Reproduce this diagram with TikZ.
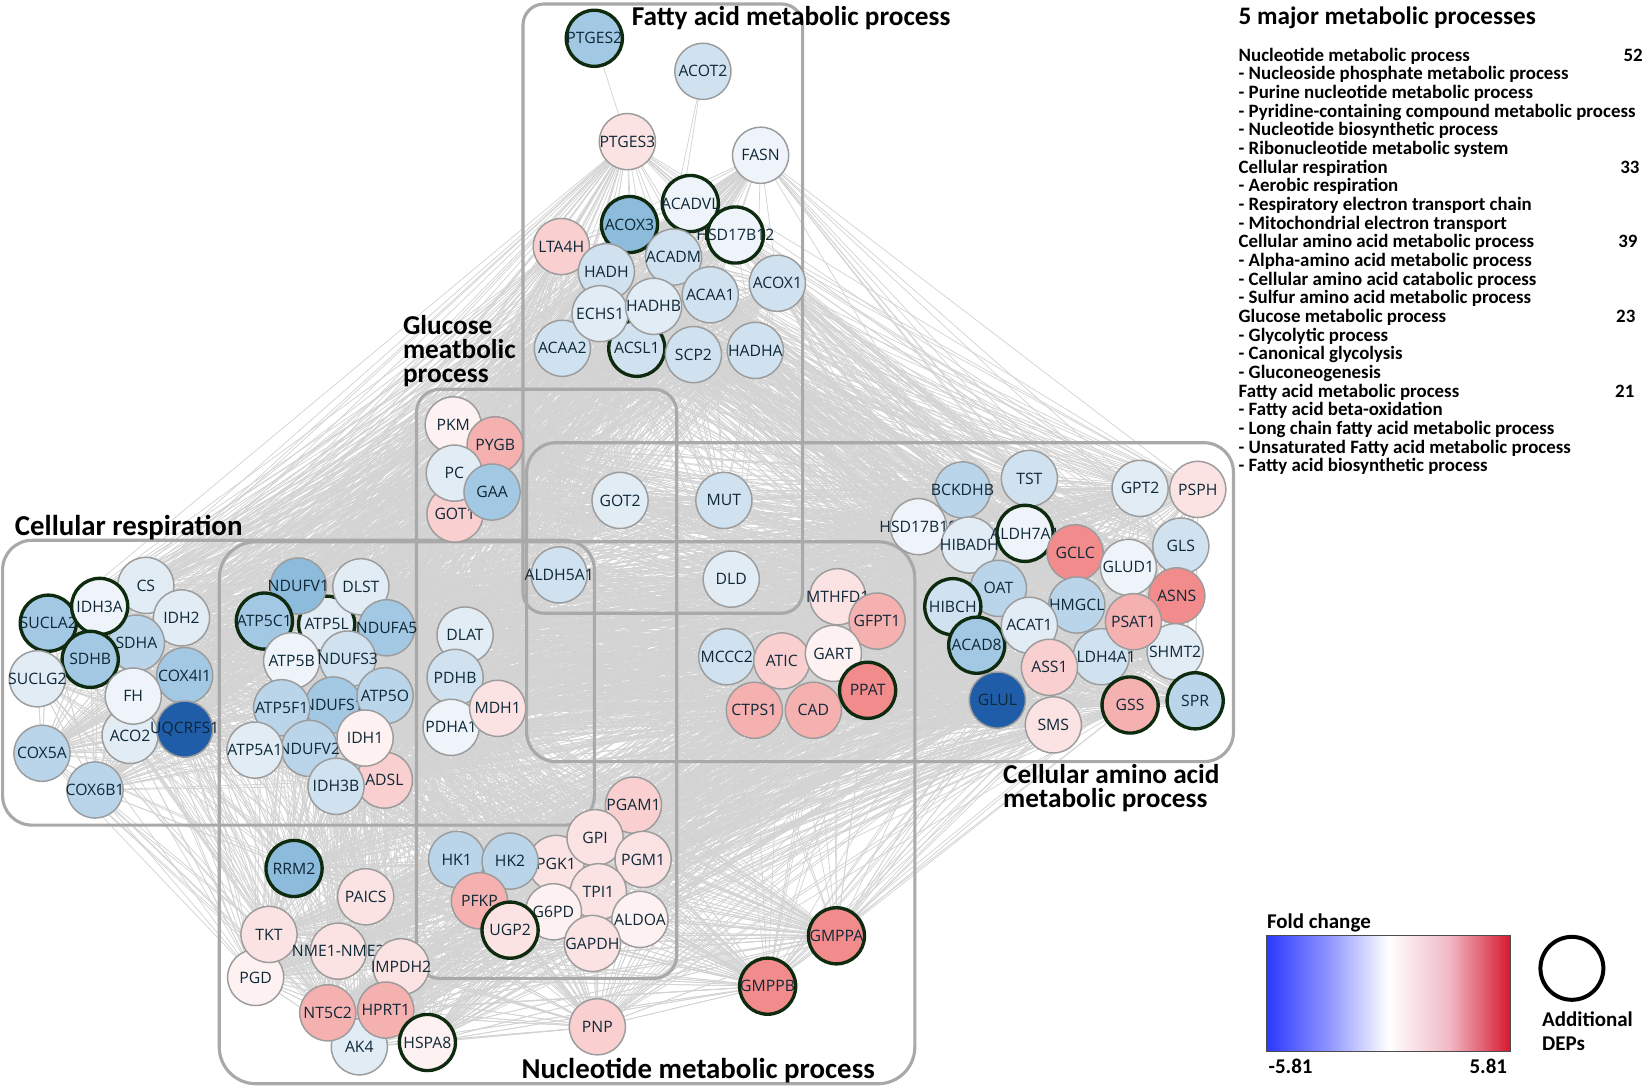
\documentclass[tikz,border=0pt]{standalone}
\usepackage{fontspec}
\setmainfont{Carlito}
\newfontfamily\lbl{Open Sans}
\pgfdeclarelayer{edgelayer}
\pgfsetlayers{edgelayer,main}
\definecolor{b0}{HTML}{EEF4F9}
\definecolor{b1}{HTML}{E1ECF5}
\definecolor{b2}{HTML}{D0E2EF}
\definecolor{b3}{HTML}{BAD5EA}
\definecolor{b4}{HTML}{A3C8E3}
\definecolor{b5}{HTML}{8DBBDB}
\definecolor{b6}{HTML}{1F5DA8}
\definecolor{r0}{HTML}{FDF1F1}
\definecolor{r1}{HTML}{FBE3E3}
\definecolor{r2}{HTML}{F9CFCF}
\definecolor{r3}{HTML}{F5B0B0}
\definecolor{r4}{HTML}{F28B8B}
\definecolor{nbc}{HTML}{9C9C9C}
\definecolor{depc}{HTML}{0E2B10}
\definecolor{ltc}{HTML}{0F2838}
\definecolor{boxc}{HTML}{A9A9A9}
\definecolor{edgec}{HTML}{D3D3D3}
\pgfdeclarehorizontalshading{foldch}{100bp}{rgb(0bp)=(0.17,0.22,1); rgb(25bp)=(0.17,0.22,1); rgb(37.5bp)=(0.55,0.58,1); rgb(50bp)=(1,1,1); rgb(62.5bp)=(0.94,0.72,0.77); rgb(75bp)=(0.84,0.09,0.18); rgb(100bp)=(0.84,0.09,0.18)}
\tikzset{
  gn/.style={circle,minimum size=53.5pt,inner sep=0pt,draw=nbc,line width=1.4pt},
  deps/.style={draw=depc,line width=3.2pt},
  gl/.style={inner sep=0pt,text=ltc,font=\lbl\fontsize{15}{15}\selectfont},
  procbox/.style={draw=boxc,line width=3pt,rounded corners=22pt},
  ttl/.style={font=\bfseries\fontsize{26}{28}\selectfont,inner sep=0pt,anchor=base west},
  bigttl/.style={ttl,font=\bfseries\fontsize{27.5}{29}\selectfont},
  leg/.style={font=\bfseries\fontsize{18}{18}\selectfont,inner sep=0pt,anchor=base west},
  keyt/.style={leg,font=\bfseries\fontsize{20}{22}\selectfont},
  lnk/.style={draw=edgec,line width=0.7pt},
}
\newcommand\gn[5][]{\node[gn,fill=#4,#1] (#2) at (#3) {}; \node[gl] at (#2) {#5};}
\newcommand\linkall[2]{\foreach \a in #1 {\foreach \b in #2 {\draw[lnk] (\a.center) -- (\b.center);}}}
\def\Rl{CS,IDH3A,IDH2,SUCLA2,SDHA,SDHB,SUCLG2,COX4I1,FH,UQCRFS1,ACO2,COX5A,COX6B1}
\def\Md{NDUFV1,DLST,ATP5C1,ATP5L,NDUFA5,ATP5B,NDUFS3,DLAT,PDHB,ATP5F1,NDUFS1,ATP5O,MDH1,IDH1,PDHA1,ATP5A1,NDUFV2,IDH3B,ADSL}
\def\Fc{LTA4H,ACADM,HADH,ACAA1,ECHS1,HADHB,ACAA2,ACSL1,SCP2,HADHA,ACOX1,ACOX3}
\def\Fo{PTGES3,FASN,ACADVL,HSD17B12}
\def\Gl{PKM,PYGB,PC,GAA,GOT1,GOT2,MUT,ALDH5A1,DLD}
\def\Am{BCKDHB,TST,GPT2,PSPH,HSD17B10,HIBADH,ALDH7A1,GCLC,GLS,GLUD1,OAT,ASNS,HIBCH,HMGCL,ACAT1,PSAT1,ACAD8,ALDH4A1,SHMT2,ASS1,GSS,SPR,SMS,GLUL}
\def\Ams{OAT,ACAT1,GLUL,ASS1,SMS,GSS,PSAT1,SHMT2,GCLC,ASNS,GLUD1,HMGCL}
\def\Amr{GPT2,PSPH,GLS,GLUD1,ASNS,SHMT2,PSAT1,TST,BCKDHB,GCLC}
\def\Nm{MTHFD1,GFPT1,MCCC2,ATIC,GART,PPAT,CTPS1,CAD}
\def\Bt{RRM2,PAICS,TKT,PGD,NME,IMPDH2,NT5C2,HPRT1,AK4,HSPA8,HK1,HK2,PFKP,UGP2,PGK1,GPI,PGAM1,PGM1,TPI1,G6PD,ALDOA,GAPDH,PNP,GMPPA,GMPPB}
\def\Bl{TKT,PGD,RRM2,NT5C2,AK4,PAICS}
\begin{document}
\begin{tikzpicture}[x=1pt,y=-1pt]
\useasboundingbox (0,0) rectangle (1568,1036);
% process boxes
\draw[procbox,rounded corners=20pt] (498.5,3.8) rectangle (765,584.5);
\draw[procbox] (397,371) rectangle (645,932.6);
\draw[procbox,rounded corners=28pt] (502,422) rectangle (1175.7,726);
\draw[procbox,rounded corners=28pt] (2.5,515) rectangle (566.5,786.5);
\draw[procbox,rounded corners=35pt] (209,516.4) rectangle (872,1033);
% fatty acid
\gn[deps]{PTGES2}{566.5,36.5}{b4}{PTGES2}
\gn{ACOT2}{670,68}{b2}{ACOT2}
\gn{PTGES3}{598,135}{r1}{PTGES3}
\gn{FASN}{725,148}{b0}{FASN}
\gn{LTA4H}{535,235}{r2}{LTA4H}
\gn[deps]{ACOX3}{600,214}{b5}{ACOX3}
\gn[deps]{ACADVL}{658,194}{b0}{ACADVL}
\gn[deps]{HSD17B12}{701,224}{b0}{HSD17B12}
\gn{ACADM}{642,245}{b2}{ACADM}
\gn{HADH}{578,259}{b2}{HADH}
\gn{ACOX1}{741,270}{b2}{ACOX1}
\gn{ACAA1}{677,281}{b2}{ACAA1}
\gn{ACAA2}{536,332}{b2}{ACAA2}
\gn[deps]{ACSL1}{607,332}{b2}{ACSL1}
\gn{ECHS1}{572,299}{b1}{ECHS1}
\gn{HADHB}{623,292}{b1}{HADHB}
\gn{SCP2}{661,338}{b2}{SCP2}
\gn{HADHA}{720,334}{b2}{HADHA}
% glucose
\gn{PKM}{432,405}{r0}{PKM}
\gn{PYGB}{472,424}{r3}{PYGB}
\gn{GOT1}{433.7,490}{r2}{GOT1}
\gn{PC}{433,451}{b1}{PC}
\gn{GAA}{469,469}{b4}{GAA}
\gn{GOT2}{591,477}{b1}{GOT2}
\gn{MUT}{690,477}{b2}{MUT}
\gn{ALDH5A1}{533,548}{b2}{ALDH5A1}
\gn{DLD}{697,552}{b1}{DLD}
% respiration
\gn[deps]{SUCLA2}{46,594}{b4}{SUCLA2}
\gn{CS}{139,558}{b1}{CS}
\gn{IDH2}{173,589}{b1}{IDH2}
\gn{SDHA}{130,613}{b3}{SDHA}
\gn[deps]{IDH3A}{95,578}{b0}{IDH3A}
\gn[deps]{SDHB}{86,628.5}{b4}{SDHB}
\gn{SUCLG2}{35.6,647}{b1}{SUCLG2}
\gn{COX4I1}{176,644}{b4}{COX4I1}
\gn{ACO2}{124,701}{b1}{ACO2}
\gn{FH}{127,663.5}{b0}{FH}
\gn{UQCRFS1}{176,695}{b6}{UQCRFS1}
\gn{COX5A}{40,718}{b3}{COX5A}
\gn{COX6B1}{90.6,753}{b3}{COX6B1}
% middle
\gn[deps]{ATP5L}{311.4,595}{b1}{ATP5L}
\gn{NDUFV1}{284.4,558.6}{b5}{NDUFV1}
\gn{DLST}{344,559.3}{b1}{DLST}
\gn{NDUFA5}{368.6,598.4}{b4}{NDUFA5}
\gn[deps]{ATP5C1}{252,592}{b4}{ATP5C1}
\gn{ATP5B}{278,629.8}{b0}{ATP5B}
\gn{NDUFS3}{331.4,628.2}{b2}{NDUFS3}
\gn{NDUFS1}{317.8,672}{b4}{NDUFS1}
\gn{ATP5O}{367,663.2}{b3}{ATP5O}
\gn{ATP5F1}{268.5,674.6}{b3}{ATP5F1}
\gn{NDUFV2}{294.9,713.4}{b3}{NDUFV2}
\gn{ATP5A1}{243,715}{b1}{ATP5A1}
\gn{ADSL}{366.4,743.6}{r2}{ADSL}
\gn{IDH1}{348,703.5}{r0}{IDH1}
\gn{IDH3B}{320.3,749.5}{b2}{IDH3B}
\gn{DLAT}{443.3,605.3}{b1}{DLAT}
\gn{PDHB}{433.8,645.7}{b2}{PDHB}
\gn{PDHA1}{430,693.3}{b0}{PDHA1}
\gn{MDH1}{474.4,675.2}{r1}{MDH1}
% amino acid
\gn{BCKDHB}{917.4,467}{b3}{BCKDHB}
\gn{TST}{981.2,456}{b2}{TST}
\gn{HSD17B10}{875.4,502}{b0}{HSD17B10}
\gn{HIBADH}{924,519.5}{b1}{HIBADH}
\gn[deps]{ALDH7A1}{977,508.4}{b0}{ALDH7A1}
\gn{GCLC}{1024.8,526.9}{r4}{GCLC}
\gn{GPT2}{1086.7,465.5}{b1}{GPT2}
\gn{PSPH}{1141.7,466.5}{r1}{PSPH}
\gn{GLS}{1125.5,520.5}{b2}{GLS}
\gn{ASNS}{1121.7,568}{r4}{ASNS}
\gn{GLUD1}{1075.6,540.8}{b0}{GLUD1}
\gn{OAT}{951.7,560.8}{b3}{OAT}
\gn[deps]{HIBCH}{908.2,578.3}{b2}{HIBCH}
\gn[deps]{ACAD8}{931,615}{b4}{ACAD8}
\gn{HMGCL}{1026.4,576.7}{b3}{HMGCL}
\gn{ALDH4A1}{1049.6,626}{b2}{ALDH4A1}
\gn{SHMT2}{1120.1,621.2}{b1}{SHMT2}
\gn{PSAT1}{1080.4,592.6}{r3}{PSAT1}
\gn{ACAT1}{981.2,596}{b1}{ACAT1}
\gn{ASS1}{1000.3,636.1}{r2}{ASS1}
\gn{GLUL}{950.7,667.3}{b6}{GLUL}
\gn{SMS}{1004,691}{r1}{SMS}
\gn[deps]{GSS}{1077.2,672}{r3}{GSS}
\gn[deps]{SPR}{1139.2,668}{b3}{SPR}
% nucleotide middle
\gn{MCCC2}{692.7,626}{b2}{MCCC2}
\gn{CTPS1}{719,677}{r3}{CTPS1}
\gn{CAD}{775.3,677}{r3}{CAD}
\gn{ATIC}{745.2,630}{r2}{ATIC}
\gn{MTHFD1}{798.5,568.8}{r1}{MTHFD1}
\gn{GFPT1}{836,592}{r3}{GFPT1}
\gn{GART}{794.4,622.8}{r0}{GART}
\gn[deps]{PPAT}{827,658}{r4}{PPAT}
% bottom
\gn[deps]{RRM2}{280.3,827.8}{b5}{RRM2}
\gn{PAICS}{348.6,854.8}{r1}{PAICS}
\gn{PGD}{243.7,931.7}{r0}{PGD}
\gn{TKT}{256.4,890.7}{r1}{TKT}
\gn{NME}{322.5,906.6}{r1}{NME1-NME2}
\gn{IMPDH2}{382.3,921.5}{r1}{IMPDH2}
\gn{AK4}{342.5,997.8}{b1}{AK4}
\gn{NT5C2}{312.4,965.4}{r3}{NT5C2}
\gn{HPRT1}{367.7,962.8}{r3}{HPRT1}
\gn[deps]{HSPA8}{407.4,993.7}{r0}{HSPA8}
\gn{HK1}{435.3,819.2}{b3}{HK1}
\gn{PGK1}{530,823}{r1}{PGK1}
\gn{HK2}{486.2,820.8}{b3}{HK2}
\gn{PFKP}{457,858.6}{r3}{PFKP}
\gn{PGAM1}{603.8,767.4}{r2}{PGAM1}
\gn{GPI}{567.2,798.5}{r1}{GPI}
\gn{PGM1}{613,819.2}{r1}{PGM1}
\gn{TPI1}{570.4,850}{r1}{TPI1}
\gn{G6PD}{527.5,869.1}{r0}{G6PD}
\gn[deps]{UGP2}{486.2,886.6}{r1}{UGP2}
\gn{ALDOA}{610,876.4}{r0}{ALDOA}
\gn{GAPDH}{564.7,899.3}{r1}{GAPDH}
\gn{PNP}{569.4,978.7}{r2}{PNP}
\gn[deps]{GMPPA}{797.3,892}{r4}{GMPPA}
\gn[deps]{GMPPB}{731.7,940}{r4}{GMPPB}
% edges
\begin{pgfonlayer}{edgelayer}
\draw[lnk] (PTGES2.center) -- (PTGES3.center);
\draw[lnk] (ACOT2.center) -- (HADHB.center);
\draw[lnk] (ACOT2.center) -- (ACADM.center);
\linkall{\Fc}{\Fc}
\linkall{\Fo}{\Fc}
\linkall{\Fo}{\Rl}
\linkall{\Fo}{\Md}
\linkall{\Rl}{\Fc}
\linkall{\Rl}{\Rl}
\linkall{\Rl}{\Md}
\linkall{\Md}{\Md}
\linkall{\Md}{\Fc}
\linkall{\Md}{\Am}
\linkall{\Fc}{\Am}
\linkall{\Fo}{\Amr}
\linkall{\Am}{\Am}
\linkall{\Bt}{\Md}
\linkall{\Bt}{\Bt}
\linkall{\Bt}{\Ams}
\linkall{\Gl}{\Gl}
\linkall{\Gl}{\Fc}
\linkall{\Gl}{\Md}
\linkall{\Gl}{\Am}
\linkall{\Gl}{\Rl}
\linkall{\Nm}{\Nm}
\linkall{\Nm}{\Md}
\linkall{\Nm}{\Bt}
\linkall{\Nm}{\Am}
\linkall{\Rl}{\Bl}
\end{pgfonlayer}
% titles
\node[ttl] at (602,24) {Fatty acid metabolic process};
\node[ttl,anchor=north west,align=left,font=\bfseries\fontsize{26}{22.7}\selectfont] (glutitle) at (384,300.4) {Glucose\\meatbolic\\process};
\node[bigttl] at (14,510) {Cellular respiration};
\node[ttl] at (956,746.7) {Cellular amino acid};
\node[ttl] at (956,769.6) {metabolic process};
\node[bigttl] at (497,1028) {Nucleotide metabolic process};
% legend
\node[ttl,font=\bfseries\fontsize{24}{26}\selectfont] at (1180.5,23.8) {5 major metabolic processes};
\foreach \t [count=\i] in {Nucleotide metabolic process,- Nucleoside phosphate metabolic process,- Purine nucleotide metabolic process,- Pyridine-containing compound metabolic process,- Nucleotide biosynthetic process,- Ribonucleotide metabolic system,Cellular respiration,- Aerobic respiration,- Respiratory electron transport chain,- Mitochondrial electron transport,Cellular amino acid metabolic process,- Alpha-amino acid metabolic process,- Cellular amino acid catabolic process,- Sulfur amino acid metabolic process,Glucose metabolic process,- Glycolytic process,- Canonical glycolysis,- Gluconeogenesis,Fatty acid metabolic process,- Fatty acid beta-oxidation,- Long chain fatty acid metabolic process,- Unsaturated Fatty acid metabolic process,- Fatty acid biosynthetic process}
  {\node[leg] at (1180.5,{58.2+17.8*(\i-1)}) {\t};}
\node[leg,anchor=base east] at (1566,58.2) {52};
\node[leg,anchor=base east] at (1563,165) {33};
\node[leg,anchor=base east] at (1561,236.2) {39};
\node[leg,anchor=base east] at (1559,307.4) {23};
\node[leg,anchor=base east] at (1558,378.6) {21};
% colour scale
\node[keyt] at (1207.5,885) {Fold change};
\shade[shading=foldch] (1207.5,891.3) rectangle (1440,1002.6);
\draw[line width=0.8pt,black!70] (1207.5,891.3) rectangle (1440,1002.6);
\node[keyt] at (1209,1023) {-5.81};
\node[keyt,anchor=base east] at (1436.7,1023) {5.81};
\node[circle,draw=black,line width=3.8pt,minimum size=60pt,inner sep=0pt] (depkey) at (1498.3,923) {};
\node[keyt] at (1469.7,978.7) {Additional};
\node[keyt] at (1469.7,1001) {DEPs};
\end{tikzpicture}
\end{document}
